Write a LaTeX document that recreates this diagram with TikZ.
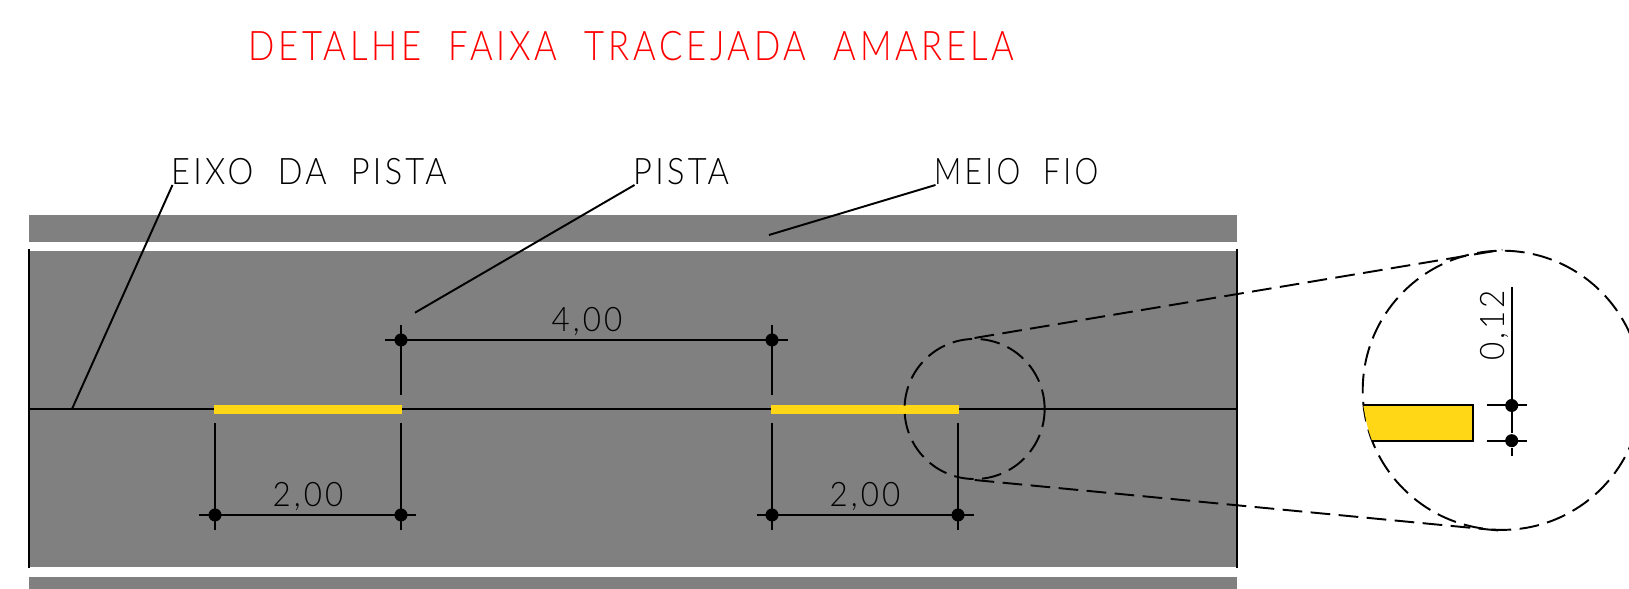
\documentclass[tikz,border=0pt]{standalone}
\usepackage{fontspec}
\newfontfamily\cadfont[FakeStretch=0.93,LetterSpace=9,WordSpace=1.75]{Lato Light}
\newfontfamily\cadnote[FakeStretch=0.89,LetterSpace=9,WordSpace=2.0]{Lato Light}
\newfontfamily\cadnarrow[FakeStretch=0.82,LetterSpace=9,WordSpace=2.0]{Lato Light}
\newfontfamily\cadtitle[FakeStretch=0.85,LetterSpace=9,WordSpace=2.1]{Lato Light}
\definecolor{roadgray}{HTML}{808080}
\definecolor{stripeyellow}{HTML}{FFD717}
\begin{document}
\begin{tikzpicture}[x=0.01cm,y=-0.01cm]
    % Define the styles for the labels and lines
    \tikzset{
        label_title/.style={inner sep=0, anchor=base west, text=red, font=\cadtitle\fontsize{11.6}{12}\selectfont},
        label_note/.style={inner sep=0, anchor=base west, font=\cadnote\fontsize{10.4}{12}\selectfont},
        label_narrow/.style={label_note, font=\cadnarrow\fontsize{10.4}{12}\selectfont},
        label_dim/.style={inner sep=0, anchor=base, font=\cadfont\fontsize{9.6}{12}\selectfont},
        cadline/.style={line width=0.55pt, black},
        cutline/.style={line width=0.55pt, black, dash pattern=on 5.6pt off 2.4pt},
        dimdot/.style={circle, fill=black, inner sep=0, minimum size=0.13cm}
    }
    \clip (0,0) rectangle (1629,589);

    % Draw the road
    \fill[roadgray] (29,215) rectangle (1237,242);
    \fill[roadgray] (29,251) rectangle (1237,567);
    \fill[roadgray] (29,577) rectangle (1237,589);
    \draw[cadline] (29,249) -- (29,568);
    \draw[cadline] (1236.9,249) -- (1236.9,568);
    \draw[cadline] (29,409) -- (1236.9,409);

    % Draw the stripes
    \fill[stripeyellow] (214,404.7) rectangle (402,414);
    \fill[stripeyellow] (771,404.7) rectangle (959,414);

    % Draw the dimension points
    \foreach \name/\x/\y in {top_a/401/340, top_b/772/340, low_a/215/515, low_b/401/515, low_c/772/515, low_d/958/515, det_a/1511.7/405.5, det_b/1511.7/440.7}
        \node[dimdot] (\name) at (\x,\y) {};

    % Draw the dimensions
    \draw[cadline] (385,340) -- (787.5,340);
    \draw[cadline] (top_a) ++(0,-15) -- (401,395);
    \draw[cadline] (top_b) ++(0,-15) -- (772,395);
    \draw[cadline] (199,515) -- (416,515);
    \draw[cadline] (757,515) -- (973.5,515);
    \draw[cadline] (215,423) -- (215,530);
    \draw[cadline] (401,423) -- (401,530);
    \draw[cadline] (772,423) -- (772,530);
    \draw[cadline] (958,423) -- (958,530);
    \node[label_dim] (dim_top) at (587,332) {4,00};
    \node[label_dim] (dim_low_a) at (308,507) {2,00};
    \node[label_dim] (dim_low_b) at (865,507) {2,00};

    % Draw the detail circles
    \node[circle, draw, cutline, inner sep=0, minimum size=1.4cm] (detail_small) at (974.6,409) {};
    \node[circle, draw, cutline, inner sep=0, minimum size=2.79cm] (detail_big) at (1502.3,390.3) {};
    \draw[cutline] (detail_small.north) -- (detail_big.north);
    \draw[cutline] (detail_small.south) -- (detail_big.south);

    % Draw the enlarged stripe
    \fill[stripeyellow] (1363.3,405.3) -- (1472.7,405.3) -- (1472.7,440.7) -- (1372,440.7) .. controls (1367,426) .. cycle;
    \draw[cadline] (1363.3,405.3) -- (1472.7,405.3) -- (1472.7,440.7) -- (1372,440.7);
    \draw[cadline] (1511.7,287.3) -- (det_b) -- (1511.7,456);
    \draw[cadline] (1486.7,405.2) -- (1526.7,405.2);
    \draw[cadline] (1486.7,440.7) -- (1526.7,440.7);
    \node[label_dim, rotate=90] (dim_detail) at (1504,325.5) {0,12};

    % Draw the title and the notes
    \node[label_title] (title) at (248,60.7) {DETALHE FAIXA TRACEJADA AMARELA};
    \node[label_note] (note_eixo) at (170.5,185) {EIXO DA PISTA};
    \node[label_note] (note_pista) at (632.5,185) {PISTA};
    \node[label_narrow] (note_meio) at (933.5,185) {MEIO FIO};

    % Draw the leaders
    \coordinate (tip_eixo) at (72,409);
    \coordinate (tip_pista) at (415,312.7);
    \coordinate (tip_meio) at (769,235);
    \draw[cadline] (note_eixo.base west) ++(2,0) -- (tip_eixo);
    \draw[cadline] (note_pista.base west) ++(2,0) -- (tip_pista);
    \draw[cadline] (note_meio.base west) ++(2,0) -- (tip_meio);
\end{tikzpicture}
\end{document}
